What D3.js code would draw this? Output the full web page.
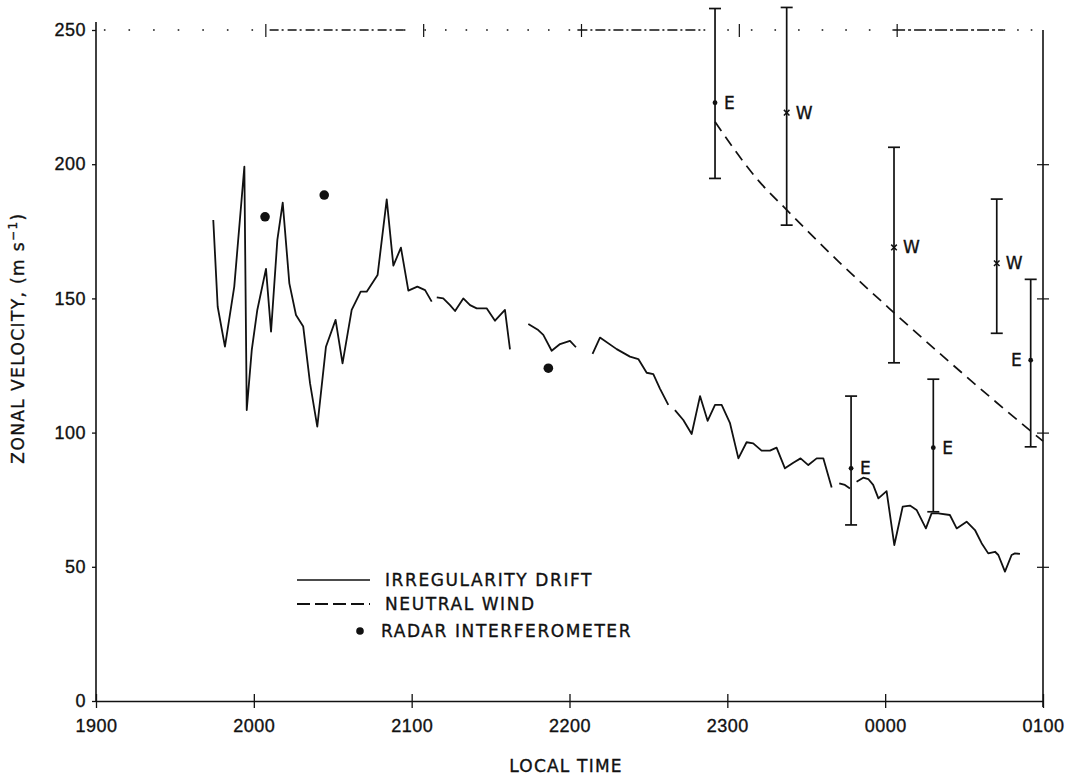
<!DOCTYPE html>
<html>
<head>
<meta charset="utf-8">
<script src="https://cdn.jsdelivr.net/npm/d3@7"></script>
<style>
  html, body { margin: 0; padding: 0; background: #fff; }
  svg { display: block; font-family: "DejaVu Sans", sans-serif; }
  text { stroke: #111; stroke-width: 0.35px; }
</style>
</head>
<body>
<svg id="chart" width="1074" height="778"></svg>
<script>
// ---------- data ----------
// local time in decimal hours (24 = 0000, 25 = 0100); null = gap in the trace
const driftTime = [
  19.743, 19.771, 19.817, 19.876, 19.940, 19.955, 19.987, 20.022, 20.077, 20.109,
  20.149, 20.183, 20.225, 20.267, 20.313, 20.356, 20.402, 20.457, 20.518, 20.562,
  20.620, 20.677, 20.715, 20.784, 20.842, 20.884, 20.932, 20.979, 21.036, 21.085,
  21.127, null,
  21.159, 21.200, 21.243, 21.275, 21.327, 21.370, 21.412, 21.475, 21.528, 21.591,
  21.623, null,
  21.739, 21.802, 21.834, 21.887, 21.940, 22.003, 22.041, null,
  22.146, 22.193, 22.299, 22.383, 22.436, 22.489, 22.531, 22.573, 22.626, null,
  22.668, 22.721, 22.774, 22.827, 22.875, 22.922, 22.964, 23.017, 23.070, 23.122,
  23.164, 23.217, 23.270, 23.312, 23.365, 23.418, 23.464, 23.513, 23.566, 23.608,
  23.661, null,
  23.709, 23.745, 23.777, null,
  23.819, 23.861, 23.893, 23.924, 23.957, 24.009, 24.058, 24.111, 24.157, 24.199,
  24.258, 24.294, 24.336, 24.410, 24.453, 24.516, 24.569, 24.611, 24.653, 24.696,
  24.717, 24.759, 24.801, 24.822, 24.854
];
const driftVel = [
  179.2, 146.9, 132.0, 154.4, 199.1, 108.4, 130.8, 145.7, 161.0, 137.6,
  171.8, 185.7, 155.6, 143.8, 139.5, 118.4, 102.2, 132.0, 142.0, 125.8,
  145.7, 152.5, 152.5, 158.7, 186.9, 162.2, 168.9, 152.9, 154.4, 153.1,
  148.8, null,
  150.4, 150.0, 147.5, 145.3, 150.0, 147.5, 146.3, 146.3, 141.7, 145.7,
  131.0, null,
  140.5, 138.2, 136.4, 130.5, 133.0, 134.2, 131.8, null,
  129.3, 135.4, 131.1, 128.3, 127.4, 122.3, 121.8, 116.4, 110.3, null,
  108.4, 104.7, 99.5, 113.6, 104.4, 110.3, 110.3, 103.5, 90.4, 96.4,
  96.0, 93.3, 93.3, 94.4, 86.7, 88.8, 90.4, 87.9, 90.4, 90.4,
  79.5, null,
  81.1, 80.5, 79.2, null,
  81.7, 83.2, 82.7, 80.5, 75.5, 78.2, 58.1, 72.4, 72.8, 71.2,
  64.3, 69.9, 69.9, 69.3, 64.3, 66.8, 63.7, 58.8, 55.0, 55.6,
  54.4, 48.2, 54.4, 55.0, 54.8
];

const windTime = [22.922, 23.2, 23.376, 23.7, 24.05, 24.4, 24.7, 25.0];
const windVel  = [215.8, 193.7, 183.0, 164.0, 145.0, 126.7, 111.5, 96.8];

const radarTime = [20.071, 20.446, 21.866];
const radarVel  = [180.4, 188.5, 124.0];

const barTime  = [22.922, 23.376, 24.056, 24.707, 24.922, 23.784, 24.305];
const barMid   = [222.9, 219.2, 169.0, 163.1, 127.0, 86.7, 94.4];
const barLow   = [194.7, 177.3, 126.0, 137.0, 94.7, 65.6, 70.5];
const barHigh  = [258.0, 258.4, 206.3, 187.0, 157.1, 113.6, 119.9];
const barType  = ["E", "W", "W", "W", "E", "E", "E"];
const barSide  = ["right", "right", "right", "right", "left", "right", "right"];

const xTickValues = [19, 20, 21, 22, 23, 24, 25];
const xTickLabels = ["1900", "2000", "2100", "2200", "2300", "0000", "0100"];
const yTickValues = [0, 50, 100, 150, 200, 250];
const rightTickValues = [50, 100, 150, 200];

const legendLabels = ["IRREGULARITY DRIFT", "NEUTRAL WIND", "RADAR INTERFEROMETER"];

// ---------- layout ----------
const svg = d3.select("#chart");
const x = d3.scaleLinear().domain([19, 25]).range([96, 1043]);
const y = d3.scaleLinear().domain([0, 250]).range([701, 30]);
const ink = "#111";

const g = svg.append("g");

// bottom axis
const xAxis = d3.axisBottom(x).tickValues(xTickValues)
  .tickFormat((d, i) => xTickLabels[i]).tickSizeInner(7).tickSizeOuter(0).tickPadding(11);
const gx = g.append("g").attr("transform", `translate(0,${y(0)})`).call(xAxis);
gx.select(".domain").attr("stroke", ink).attr("stroke-width", 1.6);
gx.selectAll(".tick line").attr("stroke", ink).attr("stroke-width", 1.3).attr("y1", -7);
gx.selectAll(".tick text").attr("fill", ink).attr("font-size", 18).attr("letter-spacing", 0.5);

// left axis
const yAxis = d3.axisLeft(y).tickValues(yTickValues)
  .tickSizeInner(4).tickSizeOuter(0).tickPadding(6);
const gy = g.append("g").attr("transform", `translate(${x(19)},0)`).call(yAxis);
gy.select(".domain").attr("stroke", ink).attr("stroke-width", 1.6)
  .attr("d", `M0,${y(0)}V${y(250) - 8}`);
gy.selectAll(".tick line").attr("stroke", ink).attr("stroke-width", 1.3);
gy.selectAll(".tick text").attr("fill", ink).attr("font-size", 18).attr("letter-spacing", 0.5);

// right axis
const rAxis = d3.axisRight(y).tickValues(rightTickValues).tickSizeInner(6).tickSizeOuter(0).tickFormat("");
const gr = g.append("g").attr("transform", `translate(${x(25)},0)`).call(rAxis);
gr.select(".domain").attr("stroke", ink).attr("stroke-width", 1.6)
  .attr("d", `M0,${y(0) + 6}V${y(250)}`);
gr.selectAll(".tick line").attr("stroke", ink).attr("stroke-width", 1.2).attr("x1", -6);

// top border: irregular dotted / dashed line at 250
const topStyles = [
  { from: 19.05, to: 20.1, dash: "1.6,23" },
  { from: 20.1, to: 20.95, dash: "9,3,2,4" },
  { from: 20.95, to: 22.05, dash: "1.6,19" },
  { from: 22.05, to: 22.85, dash: "10,3,2,3" },
  { from: 22.85, to: 24.05, dash: "1.6,22" },
  { from: 24.05, to: 24.75, dash: "12,3,3,3" },
  { from: 24.75, to: 25.0, dash: "1.6,12" }
];
g.selectAll(".topline").data(topStyles).join("line")
  .attr("x1", d => x(d.from)).attr("x2", d => x(d.to))
  .attr("y1", y(250)).attr("y2", y(250))
  .attr("stroke", ink).attr("stroke-width", 1.4).attr("stroke-dasharray", d => d.dash);
g.selectAll(".toptick").data([20, 21, 22, 23, 24]).join("line")
  .attr("x1", d => x(d) + 12).attr("x2", d => x(d) + 12)
  .attr("y1", y(250) - 6).attr("y2", y(250) + 7)
  .attr("stroke", ink).attr("stroke-width", 1.2);

// axis titles
svg.append("text")
  .attr("transform", `translate(24,338) rotate(-90)`)
  .attr("text-anchor", "middle").attr("font-size", 17).attr("fill", ink)
  .attr("letter-spacing", 1.4)
  .html('ZONAL VELOCITY, (m s<tspan dy="-7" font-size="12">−1</tspan><tspan dy="7">)</tspan>');
svg.append("text")
  .attr("x", 566).attr("y", 772)
  .attr("text-anchor", "middle").attr("font-size", 17).attr("fill", ink)
  .attr("letter-spacing", 1.2)
  .text("LOCAL TIME");

// irregularity drift line
const driftData = driftTime.map((t, i) => ({ t, v: driftVel[i] }));
const line = d3.line().defined(d => d.v !== null && d.t !== null)
  .x(d => x(d.t)).y(d => y(d.v));
g.append("path").datum(driftData)
  .attr("d", line).attr("fill", "none").attr("stroke", ink)
  .attr("stroke-width", 1.8).attr("stroke-linejoin", "round");

// neutral wind dashed curve
const windData = windTime.map((t, i) => ({ t, v: windVel[i] }));
g.append("path").datum(windData)
  .attr("d", d3.line().curve(d3.curveMonotoneX).x(d => x(d.t)).y(d => y(d.v)))
  .attr("fill", "none").attr("stroke", ink).attr("stroke-width", 1.7)
  .attr("stroke-dasharray", "11,7");

// radar interferometer dots
g.selectAll(".radar").data(radarTime.map((t, i) => ({ t, v: radarVel[i] })))
  .join("circle").attr("cx", d => x(d.t)).attr("cy", d => y(d.v))
  .attr("r", 4.8).attr("fill", ink);

// error bars
const bars = barTime.map((t, i) => ({
  t, mid: barMid[i], lo: barLow[i], hi: barHigh[i], type: barType[i], side: barSide[i]
}));
const bg = g.selectAll(".bar").data(bars).join("g");
bg.append("line").attr("x1", d => x(d.t)).attr("x2", d => x(d.t))
  .attr("y1", d => y(d.lo)).attr("y2", d => y(d.hi))
  .attr("stroke", ink).attr("stroke-width", 1.7);
bg.append("line").attr("x1", d => x(d.t) - 6).attr("x2", d => x(d.t) + 6)
  .attr("y1", d => y(d.hi)).attr("y2", d => y(d.hi))
  .attr("stroke", ink).attr("stroke-width", 1.7);
bg.append("line").attr("x1", d => x(d.t) - 6).attr("x2", d => x(d.t) + 6)
  .attr("y1", d => y(d.lo)).attr("y2", d => y(d.lo))
  .attr("stroke", ink).attr("stroke-width", 1.7);
bg.filter(d => d.type === "E").append("circle")
  .attr("cx", d => x(d.t)).attr("cy", d => y(d.mid)).attr("r", 2.4).attr("fill", ink);
bg.filter(d => d.type === "W").append("path")
  .attr("transform", d => `translate(${x(d.t)},${y(d.mid)})`)
  .attr("d", d3.symbol(d3.symbolTimes, 22))
  .attr("fill", "none").attr("stroke", ink).attr("stroke-width", 1.5);
bg.append("text")
  .attr("x", d => d.side === "right" ? x(d.t) + 9 : x(d.t) - 9)
  .attr("y", d => y(d.mid) + 6)
  .attr("text-anchor", d => d.side === "right" ? "start" : "end")
  .attr("font-size", 17).attr("fill", ink)
  .text(d => d.type);

// legend
const legX0 = 297, legX1 = 370, legTextX = 385;
const legY = [580, 604, 631];
const lg = svg.append("g");
lg.append("line").attr("x1", legX0).attr("x2", legX1).attr("y1", legY[0]).attr("y2", legY[0])
  .attr("stroke", ink).attr("stroke-width", 1.6);
lg.append("line").attr("x1", legX0).attr("x2", legX1).attr("y1", legY[1]).attr("y2", legY[1])
  .attr("stroke", ink).attr("stroke-width", 1.9).attr("stroke-dasharray", "13,5");
lg.append("circle").attr("cx", 360).attr("cy", legY[2]).attr("r", 3.8).attr("fill", ink);
lg.selectAll("text").data(legendLabels).join("text")
  .attr("x", (d, i) => i === 2 ? legTextX - 4 : legTextX)
  .attr("y", (d, i) => legY[i] + 6)
  .attr("font-size", 17).attr("fill", ink).attr("letter-spacing", 1.6)
  .text(d => d);
</script>
</body>
</html>
